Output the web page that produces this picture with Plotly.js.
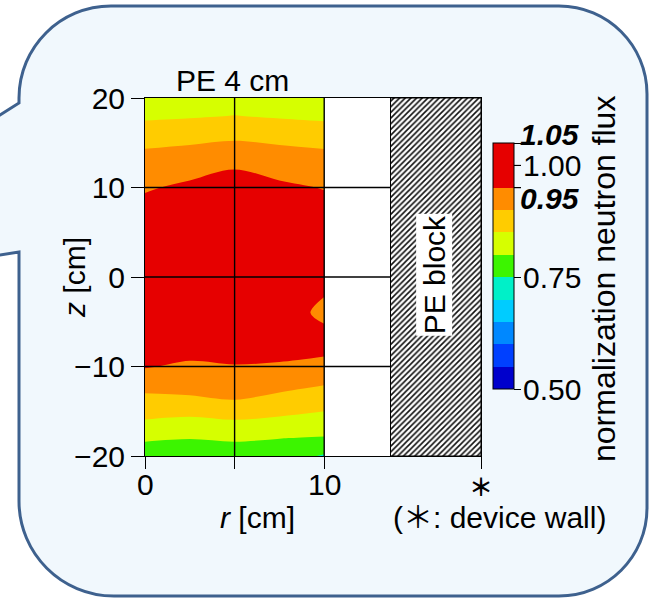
<!DOCTYPE html>
<html><head><meta charset="utf-8">
<script src="https://cdn.plot.ly/plotly-3.0.1.min.js"></script>
<style>html,body{margin:0;padding:0;background:#fff}</style>
</head><body><div id="chart" style="width:649px;height:599px"></div>
<script>
// ---- data ----
const rValues = [0, 2.5, 5, 7.5, 10];
const zValues = [-20,-18,-16,-14,-12,-10,-8,-6,-4,-2,0,2,4,6,8,10,12,14,16,18,20];
// normalized neutron flux, one row per z (from -20 to 20), one column per r
const flux = [
 [0.760, 0.781, 0.760, 0.775, 0.745],
 [0.810, 0.801, 0.810, 0.801, 0.796],
 [0.849, 0.841, 0.849, 0.845, 0.838],
 [0.877, 0.887, 0.895, 0.869, 0.862],
 [0.923, 0.920, 0.930, 0.925, 0.902],
 [0.953, 0.943, 0.948, 0.946, 0.935],
 [0.965, 0.965, 0.965, 0.962, 0.962],
 [0.977, 0.980, 0.980, 0.968, 0.955],
 [0.985, 0.990, 0.990, 0.968, 0.942],
 [0.990, 0.993, 0.998, 0.975, 0.951],
 [0.990, 0.995, 1.000, 0.980, 0.962],
 [0.990, 0.995, 1.000, 0.982, 0.970],
 [0.986, 0.990, 1.000, 0.982, 0.972],
 [0.978, 0.985, 0.995, 0.978, 0.970],
 [0.966, 0.975, 0.985, 0.972, 0.967],
 [0.943, 0.963, 0.970, 0.963, 0.947],
 [0.922, 0.930, 0.951, 0.930, 0.925],
 [0.905, 0.909, 0.923, 0.913, 0.906],
 [0.874, 0.885, 0.885, 0.878, 0.866],
 [0.842, 0.845, 0.851, 0.845, 0.843],
 [0.820, 0.823, 0.826, 0.822, 0.820]
];
const levelStart = 0.50, levelEnd = 1.05, levelStep = 0.05;
const binColors = ['#0000CC','#0040FF','#0088FF','#00CCFF','#00F0C8','#3CF500','#D6FF00','#FFCC00','#FF8C00','#E60000','#E60000'];
const cbTickVals = [0.50, 0.75, 0.95, 1.00, 1.05];
const cbTickText = ['0.50', '0.75', '<b><i>0.95</i></b>', '1.00', '<b><i>1.05</i></b>'];
const cbBoldLines = [0.95, 1.00];
const blockR = [13.7, 18.75];   // PE block extent (r)
const zRange = [-20, 20];
const wallR = 18.75;            // device wall
const xTickVals = [0, 5, 10, wallR];
const xTickText = ['0', '', '10', '<b>＊</b>'];
const yTickVals = [-20, -10, 0, 10, 20];
const yTickText = ['−20', '−10', '0', '10', '20'];
const gridR = [5, 10];
const gridZ = [-10, 0, 10];

// ---- layout helpers (pixel -> paper) ----
const W = 649, H = 599, ML = 145, MR = 168, MT = 98, MB = 143;
const PW = W - ML - MR, PH = H - MT - MB;
function px(x) { return (x - ML) / PW; }
function py(y) { return (H - MB - y) / PH; }
function P(x, y) { return px(x).toFixed(5) + ',' + py(y).toFixed(5); }

const nb = binColors.length;
const colorscale = [];
binColors.forEach((c, k) => { colorscale.push([k / nb, c]); colorscale.push([(k + 1) / nb, c]); });

const FONT = 'Liberation Sans, Arial, Noto Sans CJK JP, sans-serif';

// colorbar geometry (pixels)
const cbTop = 143, cbBottom = 389, cbLeft = 493, cbThick = 21;
function cbY(v) { return cbBottom - (v - levelStart) / (levelEnd - levelStart) * (cbBottom - cbTop); }
const cbLabelShift = [0, 0, 11, 0, -9];     // label nudges (px) to avoid crowding
const cbLabelX = [521, 521, 518, 521, 518];

const contour = {
  type: 'contour', x: rValues, y: zValues, z: flux,
  zmin: levelStart, zmax: levelEnd, zauto: false,
  autocontour: false,
  contours: { start: levelStart, end: levelEnd, size: levelStep, coloring: 'fill', showlines: false },
  line: { width: 0 },
  colorscale: colorscale,
  hoverinfo: 'skip',
  colorbar: {
    x: px(cbLeft), xanchor: 'left', xpad: 0,
    y: py((cbTop + cbBottom) / 2), yanchor: 'middle', ypad: 0,
    len: cbBottom - cbTop, lenmode: 'pixels', thickness: cbThick,
    outlinecolor: '#000', outlinewidth: 1,
    tickmode: 'array', tickvals: cbTickVals, ticktext: cbTickText, showticklabels: false,
    ticks: 'outside', ticklen: 7, tickcolor: '#000', tickwidth: 1,
    tickfont: { family: FONT, size: 30, color: '#000' }
  }
};

const block = {
  type: 'scatter', mode: 'lines',
  x: [blockR[0], blockR[1], blockR[1], blockR[0], blockR[0]],
  y: [zRange[0], zRange[0], zRange[1], zRange[1], zRange[0]],
  fill: 'toself', fillcolor: 'white',
  fillpattern: { shape: '/', size: 4, solidity: 0.4, fgcolor: '#111', bgcolor: 'white' },
  line: { color: '#000', width: 1 },
  hoverinfo: 'skip', showlegend: false
};

const bubblePath =
  'M' + P(111, 6) + ' L' + P(559, 6) +
  ' C' + P(607.6, 6) + ' ' + P(647, 45.4) + ' ' + P(647, 94) +
  ' L' + P(647, 508) +
  ' C' + P(647, 556.6) + ' ' + P(607.6, 596) + ' ' + P(559, 596) +
  ' L' + P(114, 596) +
  ' C' + P(61.5, 596) + ' ' + P(19, 553.5) + ' ' + P(19, 501) +
  ' L' + P(19, 252) + ' L' + P(-40, 261) + ' L' + P(-40, 140) + ' L' + P(19, 103) +
  ' L' + P(19, 98) +
  ' C' + P(19, 47.2) + ' ' + P(60.2, 6) + ' ' + P(111, 6) + ' Z';

const shapes = [
  { type: 'path', xref: 'paper', yref: 'paper', path: bubblePath, layer: 'below',
    fillcolor: 'rgb(241,248,253)', line: { color: 'rgb(62,97,142)', width: 3 } },
  { type: 'rect', xref: 'paper', yref: 'paper', x0: 0, x1: 1, y0: 0, y1: 1, layer: 'below',
    fillcolor: 'white', line: { width: 0 } }
];
gridR.forEach(r => shapes.push({ type: 'line', xref: 'x', yref: 'y', x0: r, x1: r, y0: zRange[0], y1: zRange[1],
  layer: 'above', line: { color: '#000', width: 1.4 } }));
gridZ.forEach(z => shapes.push({ type: 'line', xref: 'x', yref: 'y', x0: 0, x1: blockR[0], y0: z, y1: z,
  layer: 'above', line: { color: '#000', width: 1.4 } }));
cbBoldLines.forEach(v => shapes.push({ type: 'line', xref: 'paper', yref: 'paper',
  x0: px(cbLeft), x1: px(cbLeft + cbThick + 7), y0: py(cbY(v)), y1: py(cbY(v)),
  layer: 'above', line: { color: '#000', width: 1 } }));

const annFont = { family: FONT, size: 30, color: '#000' };
const annotations = [
  { xref: 'paper', yref: 'paper', x: px(232), y: py(80), text: 'PE 4 cm', showarrow: false, font: annFont, xanchor: 'center', yanchor: 'middle' },
  { xref: 'paper', yref: 'paper', x: px(74), y: py(278), text: '<i>z</i> [cm]', textangle: -90, showarrow: false, font: annFont, xanchor: 'center', yanchor: 'middle' },
  { xref: 'paper', yref: 'paper', x: px(257), y: py(517), text: '<i>r</i> [cm]', showarrow: false, font: annFont, xanchor: 'center', yanchor: 'middle' },
  { xref: 'paper', yref: 'paper', x: px(499), y: py(517), text: '(＊: device wall)', showarrow: false, font: annFont, xanchor: 'center', yanchor: 'middle' },
  { xref: 'x', yref: 'y', x: (blockR[0] + blockR[1]) / 2 - 0.1, y: 0.3, text: 'PE block', textangle: -90, showarrow: false,
    font: annFont, bgcolor: 'white', borderpad: 1, xanchor: 'center', yanchor: 'middle' },
  { xref: 'paper', yref: 'paper', x: px(604), y: py(279), text: 'normalization neutron flux', textangle: -90, showarrow: false,
    font: { family: FONT, size: 32, color: '#000' }, xanchor: 'center', yanchor: 'middle' }
];
// x tick labels
xTickVals.forEach((v, i) => {
  if (!xTickText[i]) return;
  const isWall = i === xTickVals.length - 1;
  annotations.push({ xref: 'x', yref: 'paper', x: v, y: py(isWall ? 485 : 484), text: xTickText[i], showarrow: false,
    font: isWall ? { family: 'Noto Sans CJK JP, sans-serif', size: 24, color: '#000' } : annFont,
    xanchor: 'center', yanchor: 'middle' });
});
// colorbar tick labels
cbTickVals.forEach((v, i) => {
  annotations.push({ xref: 'paper', yref: 'paper', x: px(cbLabelX[i]), y: py(cbY(v) + cbLabelShift[i]), text: cbTickText[i],
    showarrow: false, font: annFont, xanchor: 'left', yanchor: 'middle' });
});

const layout = {
  width: W, height: H, autosize: false,
  margin: { l: ML, r: MR, t: MT, b: MB, pad: 0 },
  paper_bgcolor: 'white', plot_bgcolor: 'white',
  showlegend: false,
  font: { family: FONT, size: 30, color: '#000' },
  xaxis: {
    range: [0, wallR], tickmode: 'array', tickvals: xTickVals, ticktext: xTickText, showticklabels: false,
    ticks: 'outside', ticklen: 12, tickcolor: '#000', tickwidth: 1,
    showline: true, linecolor: '#000', linewidth: 1, mirror: true,
    showgrid: false, zeroline: false, layer: 'above traces', fixedrange: true
  },
  yaxis: {
    range: zRange, tickmode: 'array', tickvals: yTickVals, ticktext: yTickText,
    ticks: 'outside', ticklen: 13, tickcolor: '#000', tickwidth: 1,
    showline: true, linecolor: '#000', linewidth: 1, mirror: true,
    showgrid: false, zeroline: false, layer: 'above traces',
    tickfont: { family: FONT, size: 30, color: '#000' }, fixedrange: true
  },
  shapes: shapes,
  annotations: annotations
};

Plotly.newPlot('chart', [contour, block], layout, { staticPlot: true, displayModeBar: false });
</script>
</body></html>
